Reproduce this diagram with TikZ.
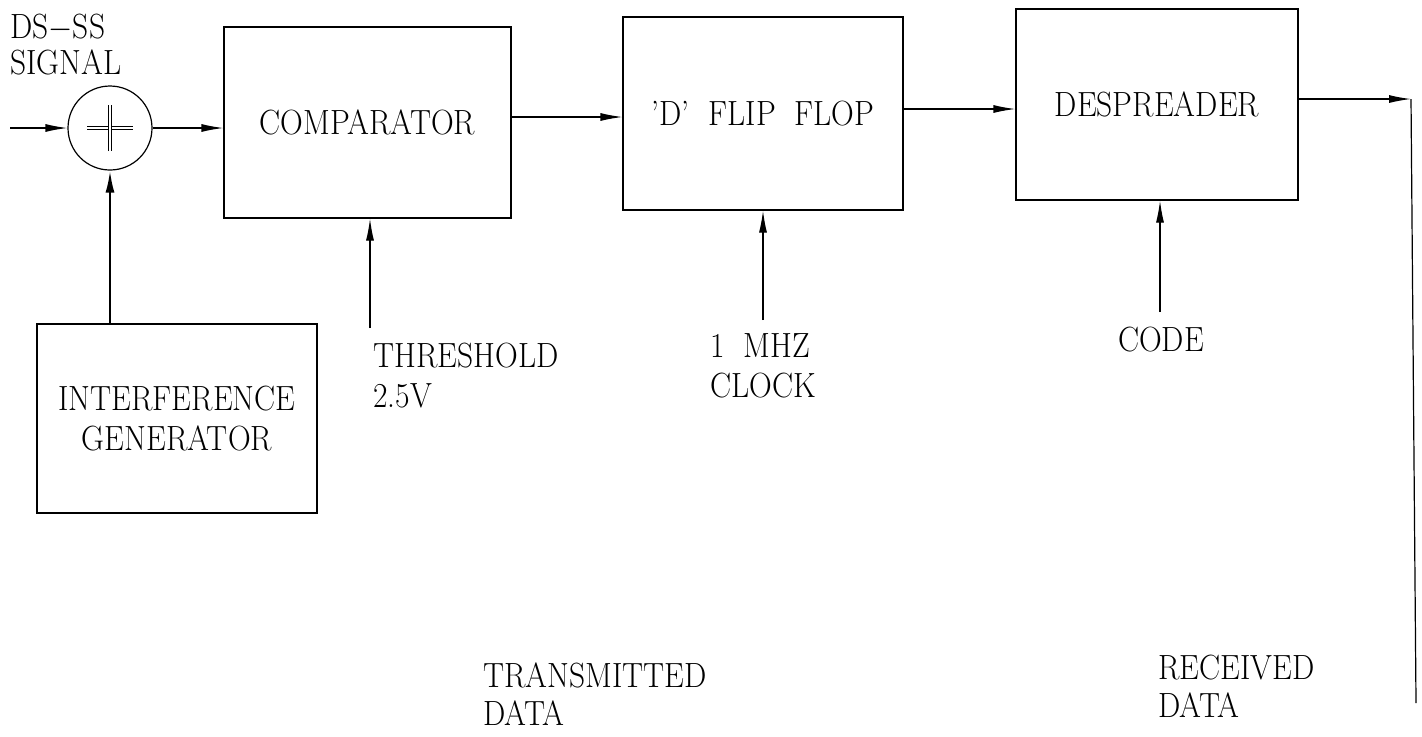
\documentclass[tikz,border=0pt]{standalone}
\usepackage{graphicx}
\usetikzlibrary{arrows.meta}
\newcommand{\sx}[1]{\scalebox{0.9}[1]{#1}}
\begin{document}
\begin{tikzpicture}[x=0.5pt,y=-0.5pt,
  box/.style={draw, line width=0.6pt, inner sep=0pt},
  lbl/.style={font=\fontsize{17.5}{20}\selectfont, inner sep=0pt},
  arr/.style={line width=0.6pt, -{Latex[length=11pt,width=4pt]}},
  wire/.style={line width=0.6pt}]
\useasboundingbox (0,0) rectangle (1422,736);

% blocks
\node[box, lbl, minimum width=143.5pt, minimum height=95.5pt] (comp) at (367.5,122.5) {\sx{COMPARATOR}};
\node[box, lbl, minimum width=140pt, minimum height=96.5pt] (ff) at (763,113.5) {\sx{'D'\ \ FLIP\ \ FLOP}};
\node[box, lbl, minimum width=141pt, minimum height=95.5pt] (desp) at (1157,104.5) {\sx{DESPREADER}};
\node[box, lbl, minimum width=140pt, minimum height=94.5pt, align=center] (intf) at (177,418.5) {\sx{INTERFERENCE}\\\sx{GENERATOR}};
\node[draw, circle, line width=0.6pt, minimum size=42pt, inner sep=0pt] (sum) at (110,128) {};
\draw[line width=0.4pt, double, double distance=0.8pt] ([xshift=-11.5pt]sum.center) -- ([xshift=11.5pt]sum.center);
\draw[line width=0.4pt, double, double distance=0.8pt] ([yshift=-11.5pt]sum.center) -- ([yshift=11.5pt]sum.center);

% labels
\node[lbl, anchor=west, align=left, font=\fontsize{17.5}{18}\selectfont] (sig) at (10,45) {\sx{DS$-$SS}\\\sx{SIGNAL}};
\node[lbl, anchor=west, align=left] (thl) at (373,376) {\sx{THRESHOLD}\\\sx{2.5V}};
\node[lbl, anchor=west, align=left] (clkl) at (710,366) {\sx{1\ \ MHZ}\\\sx{CLOCK}};
\node[lbl] (codel) at (1161,340) {\sx{CODE}};
\node[lbl, anchor=west, align=left, font=\fontsize{17.5}{19}\selectfont] (txl) at (483,694) {\sx{TRANSMITTED}\\\sx{DATA}};
\node[lbl, anchor=west, align=left, font=\fontsize{17.5}{19}\selectfont] (rxl) at (1158,686) {\sx{RECEIVED}\\\sx{DATA}};

% free ends
\coordinate (in) at (10,128);
\coordinate (th) at (370,328);
\coordinate (clk) at (763,320);
\coordinate (cd) at (1160,312);
\coordinate (rc) at (1411,99);
\coordinate (rb) at (1416,703);

% connectors
\draw[arr] (in) -- (sum.west);
\draw[arr] (sum.east) -- (sum.east -| comp.west);
\draw[arr] ([yshift=2.75pt]comp.east) -- ([yshift=2.75pt]comp.east -| ff.west);
\draw[arr] ([yshift=2.25pt]ff.east) -- ([yshift=2.25pt]ff.east -| desp.west);
\draw[arr] ([yshift=2.75pt]desp.east) -- (rc);
\draw[wire] (rc) -- (rb);
\draw[line width=1.1pt, -{Latex[length=11pt,width=4.5pt]}] (sum.south |- intf.north) -- (sum.south);
\draw[arr] (th) -- (th |- comp.south);
\draw[arr] (clk) -- (clk |- ff.south);
\draw[arr] (cd) -- (cd |- desp.south);
\end{tikzpicture}
\end{document}
